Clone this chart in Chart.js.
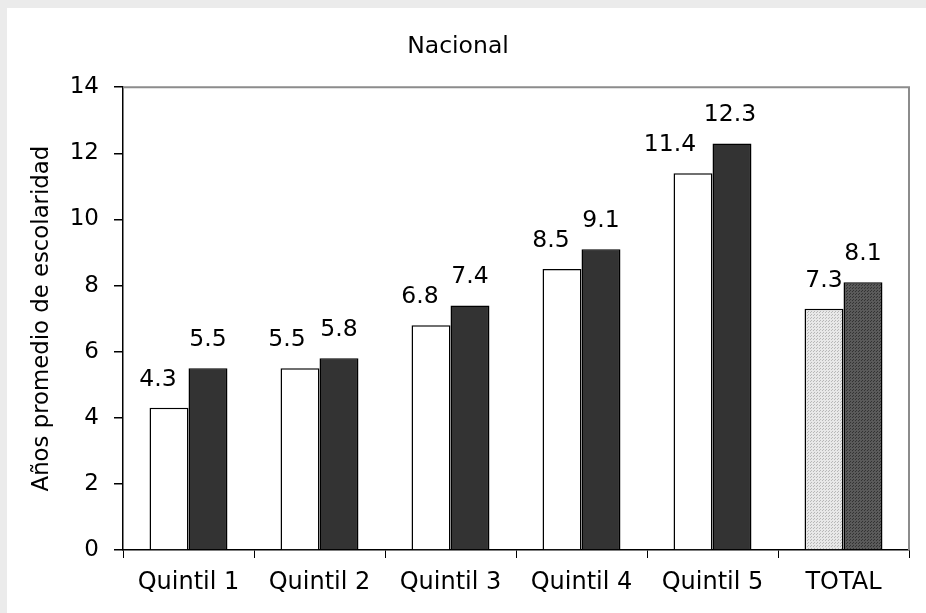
<!DOCTYPE html>
<html>
<head>
<meta charset="utf-8">
<script src="https://cdn.jsdelivr.net/npm/chart.js@4.4.1/dist/chart.umd.min.js"></script>
<style>
  html, body { margin: 0; padding: 0; background: #ebebeb; width: 926px; height: 613px; overflow: hidden; }
  #wrap { position: absolute; left: 7px; top: 8px; width: 919px; height: 605px; background: #ffffff; }
</style>
</head>
<body>
<div id="wrap"><canvas id="c" width="919" height="605"></canvas></div>
<script>
const categories = ["Quintil 1", "Quintil 2", "Quintil 3", "Quintil 4", "Quintil 5", "TOTAL"];
const seriesA = [4.3, 5.5, 6.8, 8.5, 11.4, 7.3];
const seriesB = [5.5, 5.8, 7.4, 9.1, 12.3, 8.1];
const yTicks = [0, 2, 4, 6, 8, 10, 12, 14];
const chartTitle = "Nacional";
const yTitle = "Años promedio de escolaridad";

const FONT = "'DejaVu Sans', sans-serif";

function makePattern(base, dot) {
  const p = document.createElement('canvas');
  p.width = 3; p.height = 3;
  const g = p.getContext('2d');
  g.fillStyle = base; g.fillRect(0, 0, 3, 3);
  g.fillStyle = dot; g.fillRect(0, 0, 1, 1);
  g.fillRect(2, 1, 1, 1);
  return g.createPattern(p, 'repeat');
}
const lightPat = makePattern('#e8e8e8', '#b8b8b8');
const darkPat = makePattern('#5a5a5a', '#333333');

const colorsA = categories.map((c, i) => i === categories.length - 1 ? lightPat : '#ffffff');
const colorsB = categories.map((c, i) => i === categories.length - 1 ? darkPat : '#333333');

const labelShiftA = [-11, -13, -11, -11, -23, 0];
const labelShiftB = [0, 0, 0, 0, -2, 0];

const valueLabels = {
  id: 'valueLabels',
  afterDatasetsDraw(chart) {
    const ctx = chart.ctx;
    ctx.save();
    ctx.font = "23.5px " + FONT;
    ctx.fillStyle = '#000';
    ctx.textAlign = 'center';
    ctx.textBaseline = 'alphabetic';
    [labelShiftA, labelShiftB].forEach((shifts, di) => {
      const meta = chart.getDatasetMeta(di);
      meta.data.forEach((bar, i) => {
        const v = chart.data.datasets[di].data[i];
        ctx.fillText(v.toFixed(1), bar.x + shifts[i], bar.y - 22);
      });
    });
    ctx.restore();
  }
};

const frame = {
  id: 'frame',
  beforeDatasetsDraw(chart) {
    const a = chart.chartArea;
    const ctx = chart.ctx;
    ctx.save();
    ctx.strokeStyle = '#8c8c8c';
    ctx.lineWidth = 2;
    ctx.beginPath();
    ctx.moveTo(a.left, a.top);
    ctx.lineTo(a.right, a.top);
    ctx.lineTo(a.right, a.bottom);
    ctx.stroke();
    ctx.restore();
  }
};

new Chart(document.getElementById('c'), {
  type: 'bar',
  data: {
    labels: categories,
    datasets: [
      { data: seriesA, backgroundColor: colorsA, borderColor: '#000', borderWidth: 1.5, barPercentage: 1, categoryPercentage: 0.595 },
      { data: seriesB, backgroundColor: colorsB, borderColor: '#000', borderWidth: 1.5, barPercentage: 1, categoryPercentage: 0.595 }
    ]
  },
  options: {
    responsive: false,
    animation: false,
    layout: { padding: { left: 0, right: 17, top: 0, bottom: 0 } },
    plugins: {
      legend: { display: false },
      tooltip: { enabled: false },
      title: {
        display: true, text: chartTitle, color: '#000',
        font: { family: FONT, size: 23.5, weight: 'normal' },
        padding: { top: 25, bottom: 26 }
      }
    },
    scales: {
      x: {
        grid: { display: true, offset: true, drawOnChartArea: false, drawTicks: true, tickLength: 8, color: '#000', lineWidth: 1 },
        border: { display: true, color: '#000', width: 1.5 },
        ticks: { color: '#000', font: { family: FONT, size: 24 }, padding: 10, maxRotation: 0 },
        afterFit(s) { s.height = 63; }
      },
      y: {
        min: 0, max: 14,
        afterBuildTicks(s) { s.ticks = yTicks.map(v => ({ value: v })); },
        grid: { display: true, drawOnChartArea: false, drawTicks: true, tickLength: 9, color: '#000', lineWidth: 1.5 },
        border: { display: true, color: '#000', width: 1.5 },
        ticks: { color: '#000', font: { family: FONT, size: 23 }, padding: 15 },
        title: { display: true, text: yTitle, color: '#000', font: { family: FONT, size: 22.8 }, padding: { top: 21, bottom: 0 } },
        afterFit(s) { s.width = 116; }
      }
    }
  },
  plugins: [frame, valueLabels]
});
</script>
</body>
</html>
